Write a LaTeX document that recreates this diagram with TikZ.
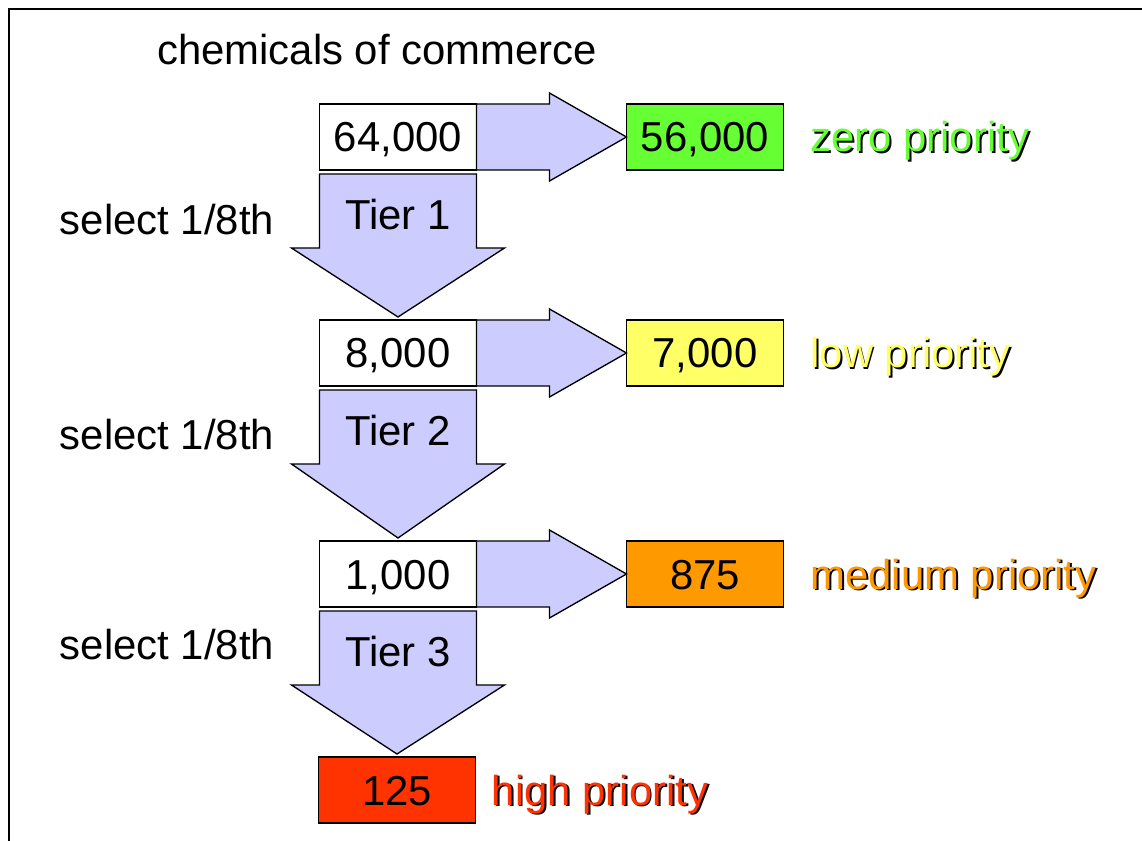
\documentclass[tikz,border=0pt]{standalone}
\usepackage{fontspec}
\setmainfont{Liberation Sans}
\usetikzlibrary{positioning,calc}

\definecolor{tierblue}{HTML}{CCCCFF}
\definecolor{zerogreen}{HTML}{66FF33}
\definecolor{lowyellow}{HTML}{FFFF66}
\definecolor{medorange}{HTML}{FF9900}
\definecolor{highred}{HTML}{FF3300}

% coloured text with a black drop shadow
\newcommand{\shadowed}[2]{\makebox[0pt][l]{\kern1.4pt\raisebox{-1.4pt}{#2}}\textcolor{#1}{#2}}

\tikzset{
  numbox/.style={draw, line width=1.2pt, fill=white, minimum width=117.75pt,
    minimum height=49.5pt, inner sep=0pt, outer sep=0pt,
    text height=22.5pt, text depth=0pt},
  blockarrow/.style={draw, line width=1pt, fill=tierblue, line join=miter},
  prio/.style={inner sep=0pt}
}

\begin{document}
\begin{tikzpicture}[x=0.75pt, y=-0.75pt, font=\fontsize{31.4}{37}\selectfont]
  \useasboundingbox (0,0) rectangle (1142,841);
  \draw[line width=1.5pt] (9,841) -- (9,9) -- (1142,9);

  \node (title) at (377,50) {chemicals of commerce};

  \node[numbox] (n64) at (398,137) {64,000};
  \node[numbox] (n8) at (398,353) {8,000};
  \node[numbox] (n1) at (398,574) {1,000};
  \node[numbox, fill=highred] (n125) at (397,790) {125};

  \node[numbox, fill=zerogreen, right=112.5pt of n64] (n56) {56,000};
  \node[numbox, fill=lowyellow, right=112.5pt of n8] (n7) {7,000};
  \node[numbox, fill=medorange, right=112.5pt of n1] (n875) {875};

  \node[prio, base right=20pt of n56] (zero) {\shadowed{zerogreen}{zero priority}};
  \node[prio, base right=20pt of n7] (low) {\shadowed{lowyellow}{low priority}};
  \node[prio, base right=20pt of n875] (medium) {\shadowed{medorange}{medium priority}};
  \node[prio, base right=12pt of n125] (high) {\shadowed{highred}{high priority}};

  \node (sel1) at (167,220) {select 1/8th};
  \node (sel2) at (167,435) {select 1/8th};
  \node (sel3) at (167,645) {select 1/8th};

  % sideways arrows to the priority boxes
  \foreach \a/\b in {n64/n56, n8/n7, n1/n875} {
    \draw[blockarrow] (\a.north east) -- ++(73,0) -- ++(0,-11) -- (\b.west)
      -- ($(\a.south east)+(73,11)$) -- ++(0,-11) -- (\a.south east) -- cycle;
  }

  % tier arrows down the column
  \foreach \a/\b/\t in {n64/n8/1, n8/n1/2, n1/n125/3} {
    \draw[blockarrow] ($(\a.south west)+(0,4)$) -- ++(0,74) -- ++(-28,0)
      -- ($(\b.north)+(0,-3)$) -- ($(\a.south east)+(28,78)$) -- ++(-28,0)
      -- ($(\a.south east)+(0,4)$) -- cycle;
    \node (tier\t) at ($(\a.south)+(0,45)$) {Tier \t};
  }
\end{tikzpicture}
\end{document}
